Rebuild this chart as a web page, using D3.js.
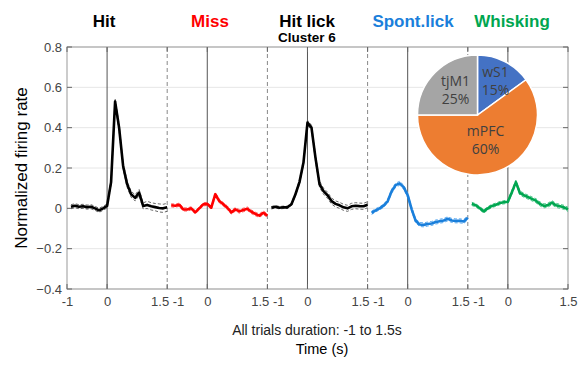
<!DOCTYPE html>
<html><head><meta charset="utf-8">
<script src="https://cdn.jsdelivr.net/npm/d3@7"></script>
<style>body{margin:0;background:#fff}svg{display:block}</style>
</head><body>
<svg id="c" width="583" height="368"></svg>
<script>
// ---- data ----
const panels = ["Hit", "Miss", "Hit lick", "Spont.lick", "Whisking"];
const panelColors = ["#000000", "#ff0000", "#000000", "#1a7fdb", "#00a650"];
const semColors = ["#555555", "#ff5a5a", "#555555", "#4aa0ee", "#33c07a"];
const times = [-0.9,-0.8,-0.7,-0.6,-0.5,-0.4,-0.3,-0.2,-0.1,0.0,0.1,0.2,0.3,0.4,0.5,0.6,0.7,0.8,0.9,1.0,1.1,1.2,1.3,1.4,1.5];
const hitMean   = [0.008,0.013,0.008,0.010,0.006,0.008,0.000,-0.010,0.000,0.012,0.130,0.530,0.400,0.210,0.120,0.070,0.052,0.078,0.012,0.017,0.010,0.006,0.002,0.000,0.005];
const hitSem    = [0.010,0.010,0.010,0.010,0.010,0.010,0.010,0.010,0.010,0.010,0.015,0.015,0.015,0.015,0.015,0.015,0.015,0.015,0.015,0.018,0.018,0.018,0.020,0.020,0.020];
const missMean  = [0.015,0.013,0.018,-0.005,-0.006,0.000,-0.020,0.000,0.020,0.022,0.003,0.070,0.036,0.020,0.003,-0.020,-0.005,-0.015,-0.008,-0.002,-0.017,-0.028,-0.036,-0.022,-0.036];
const missSem   = [0.008,0.008,0.008,0.008,0.008,0.008,0.008,0.008,0.008,0.008,0.008,0.009,0.009,0.009,0.009,0.009,0.009,0.009,0.009,0.009,0.009,0.009,0.009,0.009,0.009];
const lickMean  = [0.003,0.008,0.003,0.005,0.005,0.020,0.070,0.130,0.227,0.425,0.400,0.250,0.120,0.085,0.065,0.036,0.022,0.015,0.005,0.000,0.010,0.013,0.011,0.010,0.018];
const lickSem   = [0.006,0.006,0.006,0.006,0.006,0.006,0.008,0.010,0.012,0.012,0.012,0.015,0.015,0.015,0.015,0.015,0.015,0.015,0.015,0.015,0.015,0.015,0.015,0.015,0.015];
const spontMean = [-0.022,-0.010,0.000,0.013,0.035,0.085,0.115,0.124,0.105,0.065,-0.005,-0.062,-0.080,-0.082,-0.078,-0.075,-0.068,-0.064,-0.060,-0.052,-0.060,-0.062,-0.062,-0.065,-0.047];
const spontSem  = [0.008,0.008,0.008,0.008,0.008,0.010,0.010,0.010,0.010,0.010,0.010,0.010,0.010,0.010,0.010,0.010,0.010,0.010,0.010,0.010,0.010,0.010,0.010,0.010,0.010];
const whiskMean = [0.022,0.015,0.000,-0.015,0.000,0.012,0.018,0.026,0.030,0.033,0.080,0.130,0.076,0.065,0.056,0.047,0.038,0.022,0.012,0.016,0.028,0.015,0.010,0.005,-0.005];
const whiskSem  = [0.008,0.008,0.008,0.008,0.008,0.008,0.008,0.008,0.008,0.008,0.010,0.010,0.010,0.010,0.010,0.010,0.010,0.010,0.010,0.010,0.010,0.010,0.010,0.010,0.010];
const means = [hitMean, missMean, lickMean, spontMean, whiskMean];
const sems  = [hitSem, missSem, lickSem, spontSem, whiskSem];
const yTicks = [-0.4,-0.2,0,0.2,0.4,0.6,0.8];
const pieLabels = ["wS1", "mPFC", "tjM1"];
const pieValues = [15, 60, 25];
const pieColors = ["#4472c4", "#ed7d31", "#a5a5a5"];

// ---- layout ----
const svg = d3.select("#c");
const L = 67, R = 568, T = 47, B = 289;
const panelSpan = 2.5;
const x = d3.scaleLinear().domain([0, panels.length * panelSpan]).range([L, R]);
const y = d3.scaleLinear().domain([-0.4, 0.8]).range([B, T]);
const px = (k, t) => x(k * panelSpan + t + 1);
const font = "Liberation Sans, Arial, sans-serif";

// grid
svg.append("g").selectAll("line").data(yTicks).join("line")
  .attr("x1", L).attr("x2", R).attr("y1", d => y(d)).attr("y2", d => y(d))
  .attr("stroke", "#e6e6e6").attr("stroke-width", 1);

// zero lines and dashed separators
panels.forEach((p, k) => {
  svg.append("line").attr("x1", px(k, 0)).attr("x2", px(k, 0)).attr("y1", T).attr("y2", B)
    .attr("stroke", "#555").attr("stroke-width", 1);
  if (k < panels.length - 1) {
    svg.append("line").attr("x1", px(k, 1.5)).attr("x2", px(k, 1.5)).attr("y1", T).attr("y2", B)
      .attr("stroke", "#888").attr("stroke-width", 1).attr("stroke-dasharray", "4,3");
  }
});

// axes
const yAxis = d3.axisLeft(y).tickValues(yTicks).tickSize(0).tickPadding(5)
  .tickFormat(d => d === 0 ? "0" : d3.format("")(d));
const gy = svg.append("g").attr("transform", `translate(${L},0)`).call(yAxis);
gy.select(".domain").remove();
gy.selectAll("text").attr("font-family", font).attr("font-size", 13).attr("fill", "#444");

// x tick labels
const xLabelData = [];
panels.forEach((p, k) => {
  if (k === 0) xLabelData.push({v: k * panelSpan, s: "-1"});
  xLabelData.push({v: k * panelSpan + 1, s: "0"});
  xLabelData.push({v: (k + 1) * panelSpan, s: k < panels.length - 1 ? "1.5 -1" : "1.5"});
});
const xAxis = d3.axisBottom(x).tickValues(xLabelData.map(d => d.v)).tickSize(0).tickPadding(8)
  .tickFormat((d, i) => xLabelData[i].s);
const gx = svg.append("g").attr("transform", `translate(0,${B})`).call(xAxis);
gx.select(".domain").remove();
gx.selectAll("text").attr("font-family", font).attr("font-size", 13).attr("fill", "#444");

// box
svg.append("rect").attr("x", L).attr("y", T).attr("width", R - L).attr("height", B - T)
  .attr("fill", "none").attr("stroke", "#999").attr("stroke-width", 1);
// inner ticks
xLabelData.forEach(d => {
  svg.append("line").attr("x1", x(d.v)).attr("x2", x(d.v)).attr("y1", T).attr("y2", T + 5).attr("stroke", "#666");
  svg.append("line").attr("x1", x(d.v)).attr("x2", x(d.v)).attr("y1", B).attr("y2", B - 5).attr("stroke", "#666");
});
yTicks.forEach(v => {
  svg.append("line").attr("x1", L).attr("x2", L + 5).attr("y1", y(v)).attr("y2", y(v)).attr("stroke", "#666");
  svg.append("line").attr("x1", R).attr("x2", R - 5).attr("y1", y(v)).attr("y2", y(v)).attr("stroke", "#666");
});

// traces
panels.forEach((p, k) => {
  const m = means[k], s = sems[k];
  const line = d3.line().x((d, i) => px(k, times[i])).y(d => y(d));
  svg.append("path").datum(m.map((v, i) => v + s[i])).attr("d", line)
    .attr("fill", "none").attr("stroke", semColors[k]).attr("stroke-width", 0.9).attr("stroke-dasharray", "3,2");
  svg.append("path").datum(m.map((v, i) => v - s[i])).attr("d", line)
    .attr("fill", "none").attr("stroke", semColors[k]).attr("stroke-width", 0.9).attr("stroke-dasharray", "3,2");
  svg.append("path").datum(m).attr("d", line)
    .attr("fill", "none").attr("stroke", panelColors[k]).attr("stroke-width", 2.6).attr("stroke-linejoin", "round");
});

// titles
const titleX = [104, 210, 307, 413, 512];
panels.forEach((p, k) => {
  svg.append("text").attr("x", titleX[k]).attr("y", 27).attr("text-anchor", "middle")
    .attr("font-family", font).attr("font-weight", "bold").attr("font-size", 17)
    .attr("fill", panelColors[k]).text(p);
});
svg.append("text").attr("x", 307).attr("y", 42).attr("text-anchor", "middle")
  .attr("font-family", font).attr("font-weight", "bold").attr("font-size", 13.5).attr("fill", "#000").text("Cluster 6");

// axis titles
svg.append("text").attr("transform", `translate(27,${(T + B) / 2}) rotate(-90)`).attr("text-anchor", "middle")
  .attr("font-family", font).attr("font-size", 17).attr("fill", "#000").text("Normalized firing rate");
svg.append("text").attr("x", 317).attr("y", 335).attr("text-anchor", "middle")
  .attr("font-family", font).attr("font-size", 14).attr("fill", "#222").text("All trials duration: -1 to 1.5s");
svg.append("text").attr("x", 322).attr("y", 354).attr("text-anchor", "middle")
  .attr("font-family", font).attr("font-size", 14.5).attr("fill", "#000").text("Time (s)");

// pie
const pcx = 477.5, pcy = 115, pr = 60;
const pie = d3.pie().sort(null).value(d => d)(pieValues);
const arc = d3.arc().innerRadius(0).outerRadius(pr);
const gp = svg.append("g").attr("transform", `translate(${pcx},${pcy})`);
gp.selectAll("path").data(pie).join("path").attr("d", arc)
  .attr("fill", (d, i) => pieColors[i]).attr("stroke", "#fff").attr("stroke-width", 1.5);
const labelPos = [[18, -38], [8, 21], [-22, -29]];
pie.forEach((d, i) => {
  const t = gp.append("text").attr("text-anchor", "middle")
    .attr("font-family", "Open Sans, Liberation Sans, sans-serif").attr("font-size", 14).attr("fill", "#404040")
    .attr("transform", `translate(${labelPos[i][0]},${labelPos[i][1]})`);
  t.append("tspan").attr("x", 0).attr("dy", 0).text(pieLabels[i]);
  t.append("tspan").attr("x", 0).attr("dy", 18).text(pieValues[i] + "%");
});
</script>
</body></html>
